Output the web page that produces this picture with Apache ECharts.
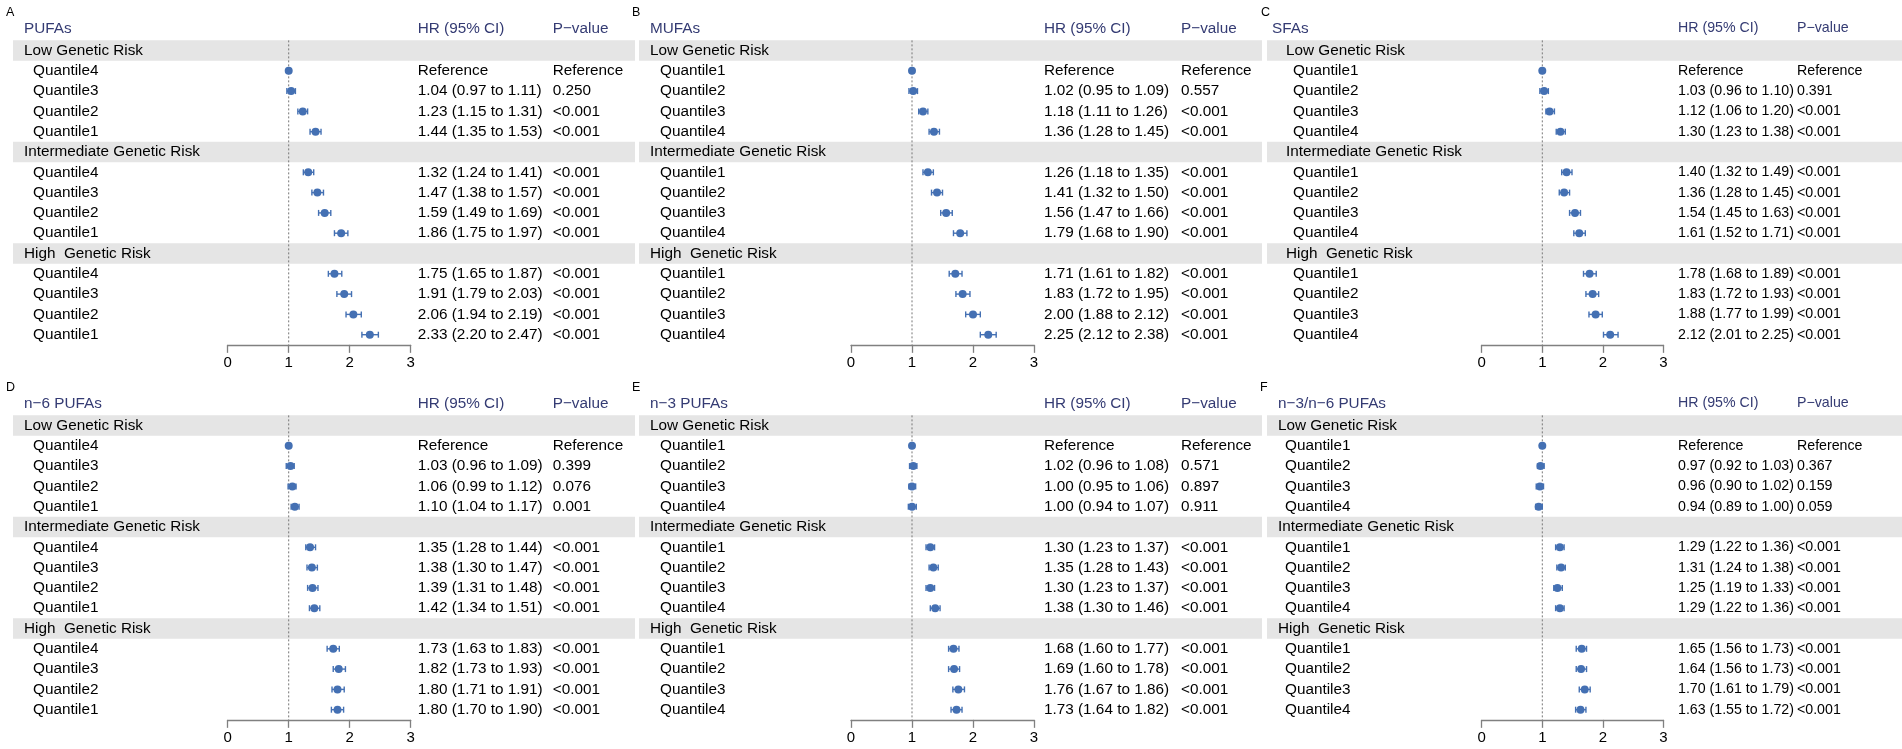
<!DOCTYPE html>
<html><head><meta charset="utf-8">
<script src="https://cdn.jsdelivr.net/npm/echarts@6/dist/echarts.min.js"></script>
<style>html,body{margin:0;padding:0;background:#fff}#c{width:1902px;height:749px}</style>
</head><body><div id="c"></div><script>
// ---------------- DATA ----------------
const groupNames = ["Low Genetic Risk", "Intermediate Genetic Risk", "High  Genetic Risk"];
const panelLetters = ["A", "B", "C", "D", "E", "F"];
const panelTitles = ["PUFAs", "MUFAs", "SFAs", "n\u22126 PUFAs", "n\u22123 PUFAs", "n\u22123/n\u22126 PUFAs"];
const hrHeader = "HR (95% CI)";
const pHeader = "P\u2212value";
const quantilesDesc = ["Quantile4", "Quantile3", "Quantile2", "Quantile1"];
const quantilesAsc = ["Quantile1", "Quantile2", "Quantile3", "Quantile4"];
const xTicks = [0, 1, 2, 3];

// A: PUFAs
const pufaHR = [1.00, 1.04, 1.23, 1.44, 1.32, 1.47, 1.59, 1.86, 1.75, 1.91, 2.06, 2.33];
const pufaLo = [1.00, 0.97, 1.15, 1.35, 1.24, 1.38, 1.49, 1.75, 1.65, 1.79, 1.94, 2.20];
const pufaHi = [1.00, 1.11, 1.31, 1.53, 1.41, 1.57, 1.69, 1.97, 1.87, 2.03, 2.19, 2.47];
const pufaP = ["Reference", "0.250", "<0.001", "<0.001", "<0.001", "<0.001", "<0.001", "<0.001", "<0.001", "<0.001", "<0.001", "<0.001"];
// B: MUFAs
const mufaHR = [1.00, 1.02, 1.18, 1.36, 1.26, 1.41, 1.56, 1.79, 1.71, 1.83, 2.00, 2.25];
const mufaLo = [1.00, 0.95, 1.11, 1.28, 1.18, 1.32, 1.47, 1.68, 1.61, 1.72, 1.88, 2.12];
const mufaHi = [1.00, 1.09, 1.26, 1.45, 1.35, 1.50, 1.66, 1.90, 1.82, 1.95, 2.12, 2.38];
const mufaP = ["Reference", "0.557", "<0.001", "<0.001", "<0.001", "<0.001", "<0.001", "<0.001", "<0.001", "<0.001", "<0.001", "<0.001"];
// C: SFAs
const sfaHR = [1.00, 1.03, 1.12, 1.30, 1.40, 1.36, 1.54, 1.61, 1.78, 1.83, 1.88, 2.12];
const sfaLo = [1.00, 0.96, 1.06, 1.23, 1.32, 1.28, 1.45, 1.52, 1.68, 1.72, 1.77, 2.01];
const sfaHi = [1.00, 1.10, 1.20, 1.38, 1.49, 1.45, 1.63, 1.71, 1.89, 1.93, 1.99, 2.25];
const sfaP = ["Reference", "0.391", "<0.001", "<0.001", "<0.001", "<0.001", "<0.001", "<0.001", "<0.001", "<0.001", "<0.001", "<0.001"];
// D: n-6 PUFAs
const n6HR = [1.00, 1.03, 1.06, 1.10, 1.35, 1.38, 1.39, 1.42, 1.73, 1.82, 1.80, 1.80];
const n6Lo = [1.00, 0.96, 0.99, 1.04, 1.28, 1.30, 1.31, 1.34, 1.63, 1.73, 1.71, 1.70];
const n6Hi = [1.00, 1.09, 1.12, 1.17, 1.44, 1.47, 1.48, 1.51, 1.83, 1.93, 1.91, 1.90];
const n6P = ["Reference", "0.399", "0.076", "0.001", "<0.001", "<0.001", "<0.001", "<0.001", "<0.001", "<0.001", "<0.001", "<0.001"];
// E: n-3 PUFAs
const n3HR = [1.00, 1.02, 1.00, 1.00, 1.30, 1.35, 1.30, 1.38, 1.68, 1.69, 1.76, 1.73];
const n3Lo = [1.00, 0.96, 0.95, 0.94, 1.23, 1.28, 1.23, 1.30, 1.60, 1.60, 1.67, 1.64];
const n3Hi = [1.00, 1.08, 1.06, 1.07, 1.37, 1.43, 1.37, 1.46, 1.77, 1.78, 1.86, 1.82];
const n3P = ["Reference", "0.571", "0.897", "0.911", "<0.001", "<0.001", "<0.001", "<0.001", "<0.001", "<0.001", "<0.001", "<0.001"];
// F: n-3/n-6 PUFAs
const ratioHR = [1.00, 0.97, 0.96, 0.94, 1.29, 1.31, 1.25, 1.29, 1.65, 1.64, 1.70, 1.63];
const ratioLo = [1.00, 0.92, 0.90, 0.89, 1.22, 1.24, 1.19, 1.22, 1.56, 1.56, 1.61, 1.55];
const ratioHi = [1.00, 1.03, 1.02, 1.00, 1.36, 1.38, 1.33, 1.36, 1.73, 1.73, 1.79, 1.72];
const ratioP = ["Reference", "0.367", "0.159", "0.059", "<0.001", "<0.001", "<0.001", "<0.001", "<0.001", "<0.001", "<0.001", "<0.001"];

const panelData = [
  {q: quantilesDesc, hr: pufaHR, lo: pufaLo, hi: pufaHi, p: pufaP},
  {q: quantilesAsc, hr: mufaHR, lo: mufaLo, hi: mufaHi, p: mufaP},
  {q: quantilesAsc, hr: sfaHR, lo: sfaLo, hi: sfaHi, p: sfaP},
  {q: quantilesDesc, hr: n6HR, lo: n6Lo, hi: n6Hi, p: n6P},
  {q: quantilesAsc, hr: n3HR, lo: n3Lo, hi: n3Hi, p: n3P},
  {q: quantilesAsc, hr: ratioHR, lo: ratioLo, hi: ratioHi, p: ratioP}
];

// ---------------- LAYOUT ----------------
const FONT = '"Liberation Sans", Arial, Helvetica, sans-serif';
const NAVY = '#343b73';
const BLUE = '#4470b3';
const BAND = '#e5e5e5';
const panelLayout = [
  {letter: 6, title: 24, band: [13, 635], header: 24, q: 33, ax: [227.7, 410.7], hr: 417.7, p: 552.7, fs: 15.3},
  {letter: 632, title: 650, band: [639, 1262], header: 650, q: 660, ax: [851, 1034], hr: 1044, p: 1181, fs: 15.3},
  {letter: 1261, title: 1272, band: [1267, 1902], header: 1286, q: 1293, ax: [1481.7, 1663.5], hr: 1678, p: 1797, fs: 14.2},
  {letter: 6, title: 24, band: [13, 635], header: 24, q: 33, ax: [227.7, 410.7], hr: 417.7, p: 552.7, fs: 15.3},
  {letter: 632, title: 650, band: [639, 1262], header: 650, q: 660, ax: [851, 1034], hr: 1044, p: 1181, fs: 15.3},
  {letter: 1260, title: 1278, band: [1267, 1902], header: 1278, q: 1285, ax: [1481.7, 1663.5], hr: 1678, p: 1797, fs: 14.2}
];
const rowOffset = [0, 375];
const ROW0 = 50.5, ROWH = 20.3, NROWS = 15;

const fmt = v => v.toFixed(2);

const grids = [], xAxes = [], yAxes = [], series = [], graphics = [];

panelData.forEach((pd, k) => {
  const L = panelLayout[k];
  const dy = rowOffset[Math.floor(k / 3)];
  const top = ROW0 - ROWH / 2 + dy;
  grids.push({left: L.ax[0], width: L.ax[1] - L.ax[0], top: top, height: ROWH * NROWS});
  xAxes.push({
    gridIndex: k, type: 'value', position: 'bottom', min: xTicks[0], max: xTicks[xTicks.length - 1], interval: 1,
    axisLine: {show: true, onZero: false, lineStyle: {color: '#808080', width: 1.3}},
    axisTick: {show: true, inside: false, length: 8, lineStyle: {color: '#808080', width: 1.3}},
    axisLabel: {show: true, color: '#000', fontSize: 15, fontFamily: FONT, margin: 11},
    splitLine: {show: false}, z: 6
  });
  yAxes.push({gridIndex: k, type: 'value', min: -0.5, max: NROWS - 0.5, inverse: true, show: false});

  const rows = [];
  let di = 0;
  groupNames.forEach((g, gi) => {
    rows.push({idx: gi * 5, kind: 'h', label: g});
    pd.q.forEach((qn, qi) => {
      rows.push({idx: gi * 5 + qi + 1, kind: 'q', label: qn, di: di});
      di++;
    });
  });
  const headerRows = rows.filter(r => r.kind === 'h');
  const qRows = rows.filter(r => r.kind === 'q');

  // bands
  series.push({
    type: 'custom', xAxisIndex: k, yAxisIndex: k, z: 1, silent: true, clip: false,
    data: headerRows.map(r => [0, r.idx]),
    renderItem: (params, api) => {
      const yc = api.coord([0, api.value(1)])[1];
      const h = api.size([0, 1])[1];
      return {type: 'rect', shape: {x: L.band[0], y: yc - h / 2, width: L.band[1] - L.band[0], height: h}, style: {fill: BAND}};
    }
  });
  // reference dotted line at HR = 1
  series.push({
    type: 'custom', xAxisIndex: k, yAxisIndex: k, z: 2, silent: true, clip: false,
    data: [[1, -0.5, NROWS - 0.5]],
    renderItem: (params, api) => {
      const a = api.coord([api.value(0), api.value(1)]);
      const b = api.coord([api.value(0), api.value(2)]);
      return {type: 'line', shape: {x1: a[0], y1: a[1], x2: b[0], y2: b[1]}, style: {stroke: '#777', lineWidth: 1, lineDash: [2, 2]}};
    }
  });
  // error bars
  series.push({
    type: 'custom', xAxisIndex: k, yAxisIndex: k, z: 3, silent: true, clip: false,
    data: qRows.map(r => [pd.lo[r.di], pd.hi[r.di], r.idx]),
    renderItem: (params, api) => {
      const a = api.coord([api.value(0), api.value(2)]);
      const b = api.coord([api.value(1), api.value(2)]);
      const cap = 3;
      const st = {stroke: BLUE, lineWidth: 1.4};
      return {type: 'group', children: [
        {type: 'line', shape: {x1: a[0], y1: a[1], x2: b[0], y2: b[1]}, style: st},
        {type: 'line', shape: {x1: a[0], y1: a[1] - cap, x2: a[0], y2: a[1] + cap}, style: st},
        {type: 'line', shape: {x1: b[0], y1: b[1] - cap, x2: b[0], y2: b[1] + cap}, style: st}
      ]};
    }
  });
  // points
  series.push({
    type: 'scatter', xAxisIndex: k, yAxisIndex: k, z: 4, silent: true,
    symbol: 'circle', symbolSize: 8, itemStyle: {color: BLUE, opacity: 1},
    data: qRows.map(r => [pd.hr[r.di], r.idx])
  });
  // text columns
  series.push({
    type: 'custom', xAxisIndex: k, yAxisIndex: k, z: 5, silent: true, clip: false,
    data: rows.map(r => [0, r.idx]),
    renderItem: (params, api) => {
      const r = rows[params.dataIndex];
      const y = api.coord([0, api.value(1)])[1];
      const base = {fontFamily: FONT, fill: '#000', textVerticalAlign: 'middle', verticalAlign: 'middle', align: 'left'};
      if (r.kind === 'h') {
        return {type: 'text', x: L.header, y: y, style: Object.assign({}, base, {text: r.label, fontSize: 15.3})};
      }
      const isRef = pd.p[r.di] === 'Reference';
      const hrTxt = isRef ? 'Reference' : fmt(pd.hr[r.di]) + ' (' + fmt(pd.lo[r.di]) + ' to ' + fmt(pd.hi[r.di]) + ')';
      return {type: 'group', children: [
        {type: 'text', x: L.q, y: y, style: Object.assign({}, base, {text: r.label, fontSize: 15.3})},
        {type: 'text', x: L.hr, y: y, style: Object.assign({}, base, {text: hrTxt, fontSize: L.fs})},
        {type: 'text', x: L.p, y: y, style: Object.assign({}, base, {text: pd.p[r.di], fontSize: L.fs})}
      ]};
    }
  });

  // panel headings
  graphics.push({type: 'text', left: L.letter, top: 6 + dy, style: {text: panelLetters[k], fontSize: 12.5, fontFamily: FONT, fill: '#000'}});
  graphics.push({type: 'text', left: L.title, top: 21 + dy, style: {text: panelTitles[k], fontSize: 15.3, fontFamily: FONT, fill: NAVY}});
  graphics.push({type: 'text', left: L.hr, top: 21 + dy, style: {text: hrHeader, fontSize: L.fs, fontFamily: FONT, fill: NAVY}});
  graphics.push({type: 'text', left: L.p, top: 21 + dy, style: {text: pHeader, fontSize: L.fs, fontFamily: FONT, fill: NAVY}});
});

const chart = echarts.init(document.getElementById('c'), null, {renderer: 'canvas'});
chart.setOption({
  animation: false,
  backgroundColor: '#fff',
  grid: grids, xAxis: xAxes, yAxis: yAxes, series: series, graphic: graphics
});
</script></body></html>
